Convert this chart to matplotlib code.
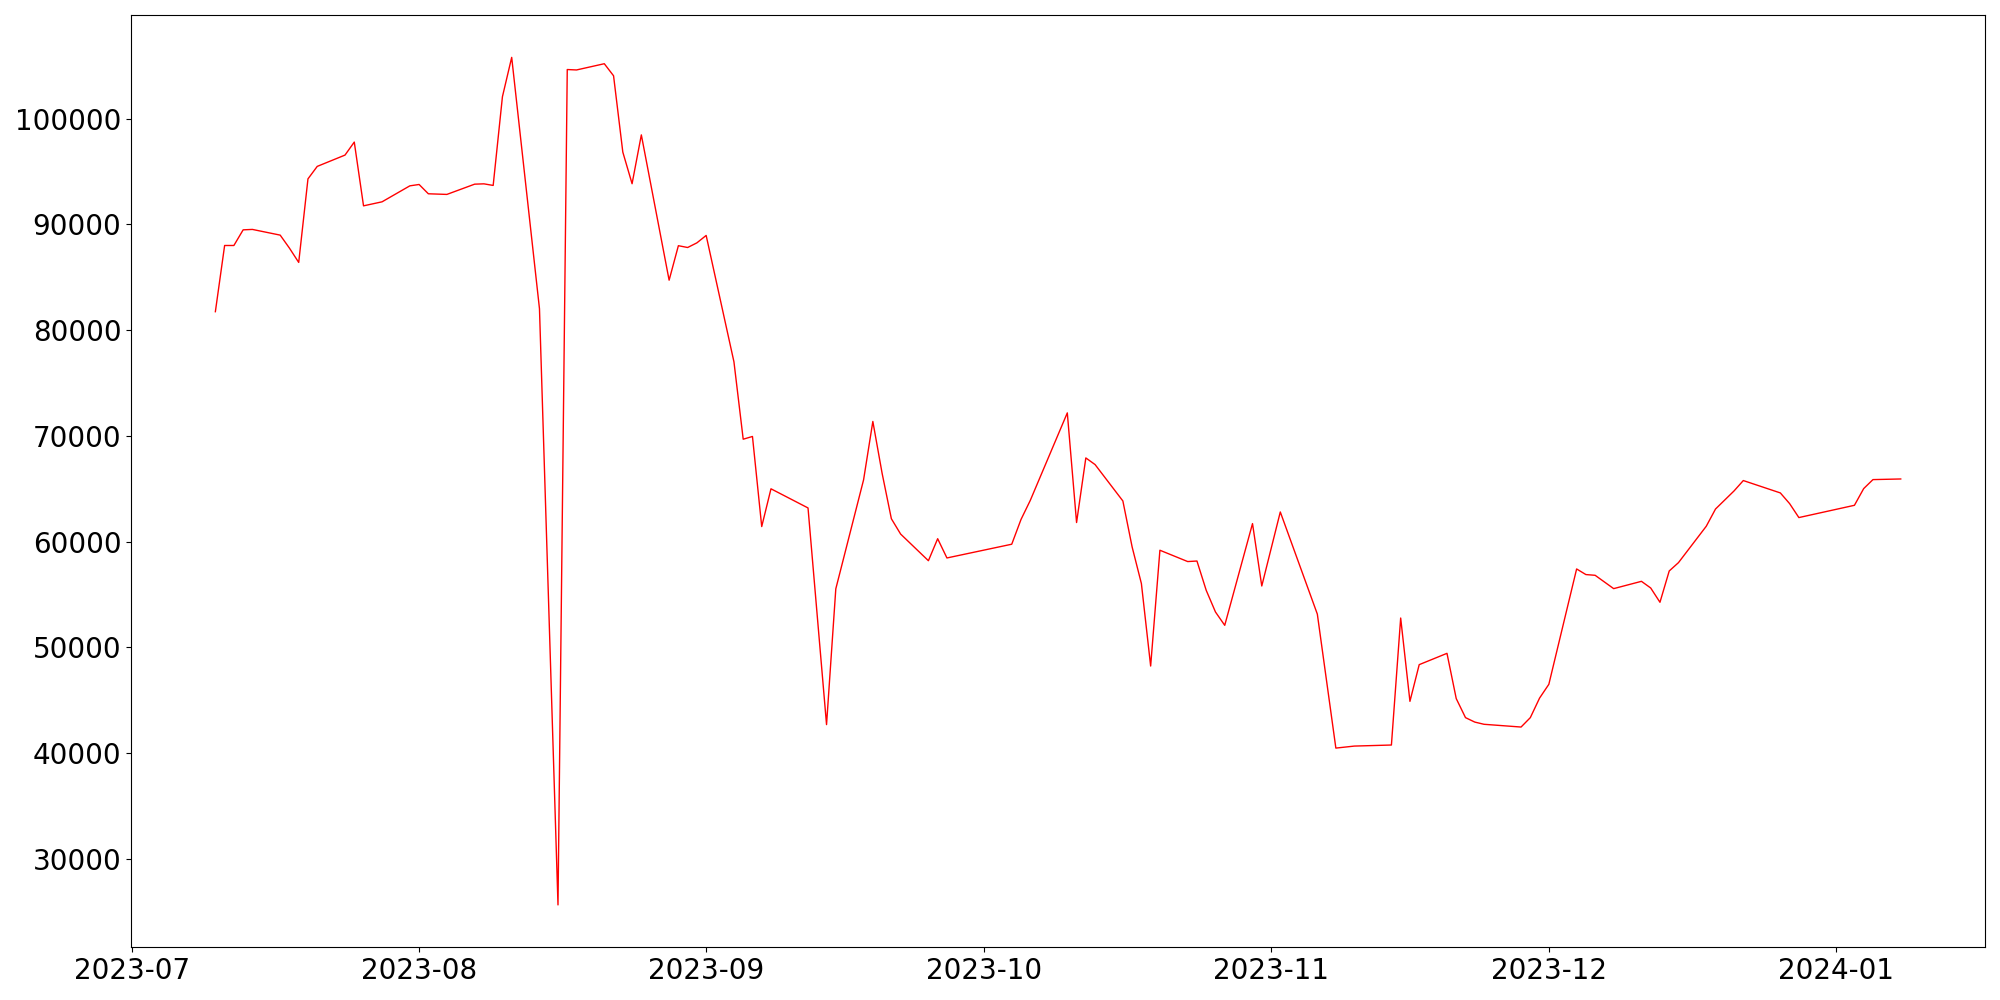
import matplotlib
matplotlib.use("Agg")
import matplotlib.pyplot as plt
import pandas as pd

# daily values
datas = [
    "2023-07-10", "2023-07-11", "2023-07-12", "2023-07-13", "2023-07-14",
    "2023-07-17", "2023-07-18", "2023-07-19", "2023-07-20", "2023-07-21",
    "2023-07-24", "2023-07-25", "2023-07-26", "2023-07-28", "2023-07-31",
    "2023-08-01", "2023-08-02", "2023-08-04", "2023-08-07", "2023-08-08",
    "2023-08-09", "2023-08-10", "2023-08-11", "2023-08-14", "2023-08-16",
    "2023-08-17", "2023-08-18", "2023-08-21", "2023-08-22", "2023-08-23",
    "2023-08-24", "2023-08-25", "2023-08-28", "2023-08-29", "2023-08-30",
    "2023-08-31", "2023-09-01", "2023-09-04", "2023-09-05", "2023-09-06",
    "2023-09-07", "2023-09-08", "2023-09-12", "2023-09-14", "2023-09-15",
    "2023-09-18", "2023-09-19", "2023-09-20", "2023-09-21", "2023-09-22",
    "2023-09-25", "2023-09-26", "2023-09-27", "2023-10-04", "2023-10-05",
    "2023-10-06", "2023-10-10", "2023-10-11", "2023-10-12", "2023-10-13",
    "2023-10-16", "2023-10-17", "2023-10-18", "2023-10-19", "2023-10-20",
    "2023-10-23", "2023-10-24", "2023-10-25", "2023-10-26", "2023-10-27",
    "2023-10-30", "2023-10-31", "2023-11-02", "2023-11-06", "2023-11-08",
    "2023-11-10", "2023-11-14", "2023-11-15", "2023-11-16", "2023-11-17",
    "2023-11-20", "2023-11-21", "2023-11-22", "2023-11-23", "2023-11-24",
    "2023-11-28", "2023-11-29", "2023-11-30", "2023-12-01", "2023-12-04",
    "2023-12-05", "2023-12-06", "2023-12-08", "2023-12-11", "2023-12-12",
    "2023-12-13", "2023-12-14", "2023-12-15", "2023-12-18", "2023-12-19",
    "2023-12-21", "2023-12-22", "2023-12-26", "2023-12-27", "2023-12-28",
    "2024-01-03", "2024-01-04", "2024-01-05", "2024-01-08",
]

valores = [
    81750, 88010, 88010, 89490, 89530,
    88990, 87760, 86410, 94310, 95490,
    96560, 97790, 91760, 92140, 93650,
    93780, 92900, 92840, 93810, 93840,
    93690, 102080, 105800, 82030, 25650,
    104650, 104610, 105200, 104060, 96840,
    93850, 98470, 84730, 87990, 87820,
    88260, 88960, 77010, 69690, 69950,
    61430, 65000, 63190, 42700, 55540,
    65850, 71370, 66470, 62170, 60720,
    58200, 60280, 58460, 59760, 62100,
    63900, 72180, 61810, 67920, 67290,
    63850, 59500, 56040, 48240, 59190,
    58120, 58170, 55400, 53350, 52090,
    61710, 55810, 62810, 53150, 40480,
    40670, 40770, 52780, 44900, 48370,
    49440, 45160, 43360, 42940, 42730,
    42470, 43360, 45210, 46510, 57420,
    56890, 56820, 55560, 56250, 55620,
    54270, 57230, 58020, 61460, 63090,
    64800, 65780, 64610, 63600, 62280,
    63440, 65020, 65870, 65930,
]

def gerar_grafico(datas, valores):
    datas = pd.to_datetime(datas)

    plt.figure(figsize=(20, 10), dpi=100)
    plt.plot(datas, valores, color='red', linewidth=1)

    plt.xticks(fontsize=20)
    plt.yticks(fontsize=20)

    plt.tight_layout()
    plt.savefig('out.png')

if __name__ == "__main__":
    gerar_grafico(datas, valores)
